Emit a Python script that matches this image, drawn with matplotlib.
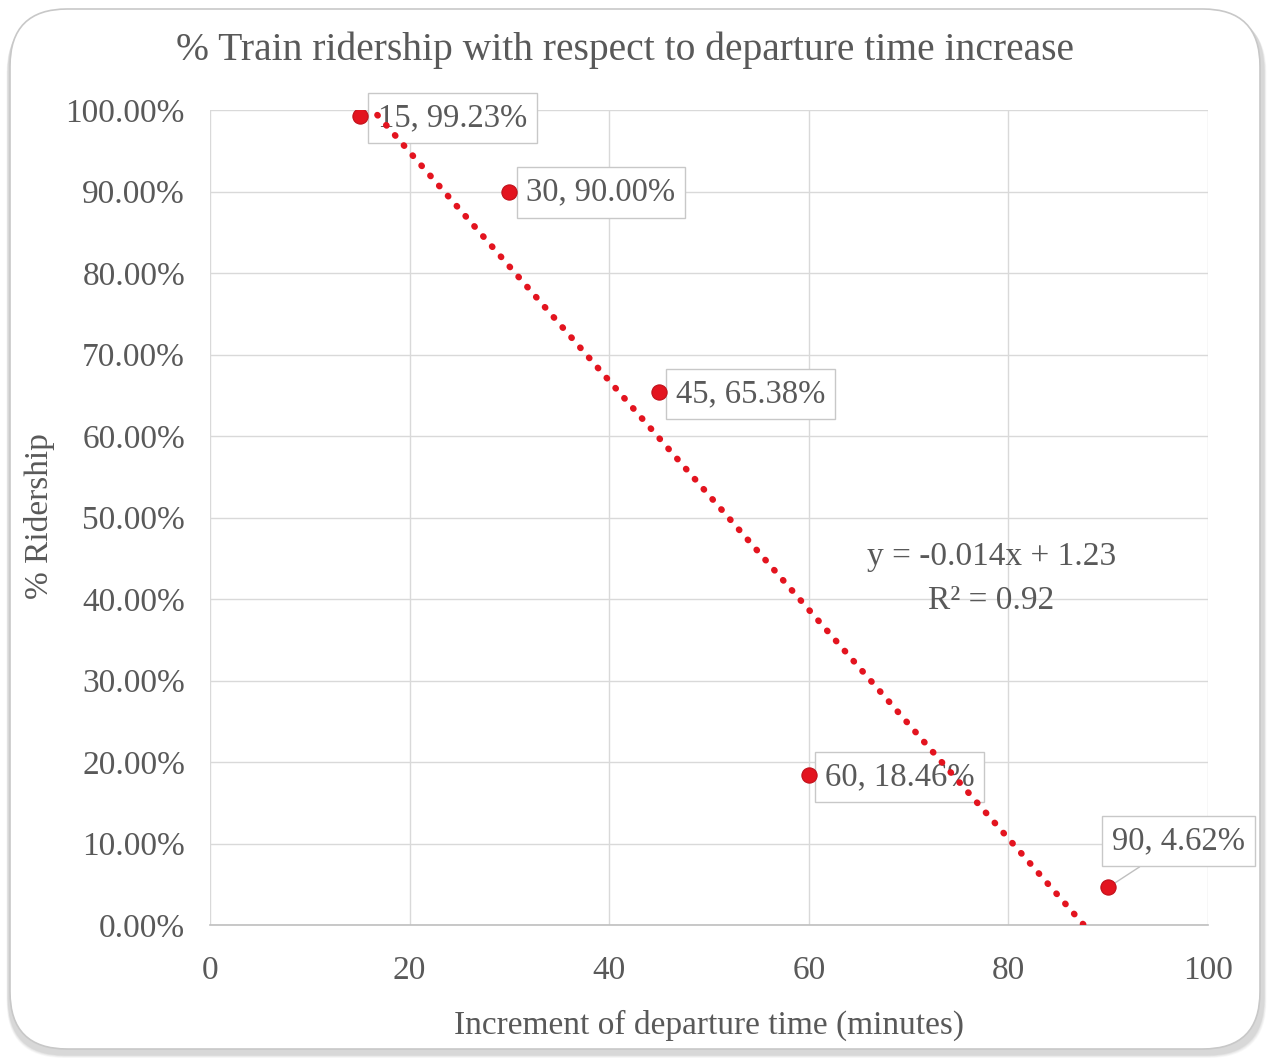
import matplotlib
matplotlib.use("Agg")
import matplotlib.pyplot as plt
import numpy as np
from matplotlib.patches import FancyBboxPatch
from matplotlib.ticker import FuncFormatter

# Departure time increase (minutes) and share of riders keeping the train
delay_minutes = [15, 30, 45, 60, 90]
ridership = [0.9923, 0.9000, 0.6538, 0.1846, 0.0462]
point_labels = ["15, 99.23%", "30, 90.00%", "45, 65.38%", "60, 18.46%", "90, 4.62%"]
x_ticks = [0, 20, 40, 60, 80, 100]
y_ticks = [0.0, 0.1, 0.2, 0.3, 0.4, 0.5, 0.6, 0.7, 0.8, 0.9, 1.0]

TEXT = "#595959"
RED = "#E3141F"
GRID = "#D9D9D9"

plt.rcParams["font.family"] = ["Liberation Serif", "DejaVu Serif"]

fig = plt.figure(figsize=(12.69, 10.59), dpi=100)
W, H = 1269, 1059

# rounded card with soft shadow
for i, a in enumerate([0.05, 0.06, 0.08, 0.10, 0.14]):
    off = 5 - i
    fig.patches.append(FancyBboxPatch(
        ((8 - off * 0.3) / W, (4 - off * 0.6) / H), (1256 + off * 0.8) / W, (1042) / H,
        boxstyle="round,pad=0,rounding_size=0.045", transform=fig.transFigure,
        facecolor="#9a9a9a", edgecolor="none", alpha=a, zorder=-10, mutation_aspect=W / H))
fig.patches.append(FancyBboxPatch(
    (10 / W, 10 / H), 1250 / W, 1040 / H,
    boxstyle="round,pad=0,rounding_size=0.045", transform=fig.transFigure,
    facecolor="white", edgecolor="#c8c8c8", linewidth=1.2, zorder=-5, mutation_aspect=W / H))

ax = fig.add_axes([210 / W, 1 - 925 / H, 998 / W, 815 / H])
ax.set_facecolor("none")
ax.set_xlim(0, 100)
ax.set_ylim(0, 1.0)
ax.set_xticks(x_ticks)
ax.set_yticks(y_ticks)
ax.yaxis.set_major_formatter(FuncFormatter(lambda v, p: f"{v * 100:.2f}%"))
ax.tick_params(length=0, labelsize=24, labelcolor=TEXT)
ax.tick_params(axis="y", pad=18)
ax.tick_params(axis="x", pad=22)
ax.grid(True, color=GRID, linewidth=1.0)
ax.set_axisbelow(True)
for s in ["top", "right", "left"]:
    ax.spines[s].set_visible(False)
ax.spines["bottom"].set_color("#BFBFBF")
ax.spines["bottom"].set_linewidth(1.2)

# linear trendline, drawn over the label boxes, down to where it reaches 0%
slope, intercept = np.polyfit(delay_minutes, ridership, 1)
x_zero = -intercept / slope
tx = np.linspace(min(delay_minutes), min(x_zero, max(delay_minutes)), 200)
ty = slope * tx + intercept
ax.plot(tx, ty, color=RED, linewidth=4.6, dashes=(0.1, 2.0),
        dash_capstyle="round", zorder=7)

ax.scatter(delay_minutes, ridership, s=120, color=RED, edgecolor="#C0101A",
           linewidth=0.8, zorder=8)

offsets = [(18, -2), (17, -1), (17, -2), (16, -2), (4, 46)]
for x, y, lab, off in zip(delay_minutes, ridership, point_labels, offsets):
    kw = {}
    if off[1] > 20:
        kw["arrowprops"] = dict(arrowstyle="-", color="#BFBFBF", lw=1.0,
                                shrinkA=0, shrinkB=4)
    ax.annotate(lab, (x, y), xytext=off, textcoords="offset pixels",
                ha="left", va="center", fontsize=23.5, color=TEXT, zorder=5,
                bbox=dict(boxstyle="square,pad=0.3", facecolor="white",
                          edgecolor="#C8C8C8", linewidth=1.0),
                **kw)

ax.text(78.3, 0.4515, "y = -0.014x + 1.23", ha="center", va="center",
        fontsize=24, color=TEXT, zorder=5)
ax.text(78.3, 0.3975, "R² = 0.92", ha="center", va="center",
        fontsize=24, color=TEXT, zorder=5)

ax.set_xlabel("Increment of departure time (minutes)", fontsize=24, color=TEXT, labelpad=17)
fig.text(40 / W, 1 - 516 / H, "% Ridership", rotation=90, ha="center", va="center",
         fontsize=24, color=TEXT)

fig.text(625 / W, 1 - 50 / H, "% Train ridership with respect to departure time increase",
         ha="center", va="center", fontsize=28.5, color=TEXT)

fig.savefig("out.png", dpi=100, facecolor="white")
